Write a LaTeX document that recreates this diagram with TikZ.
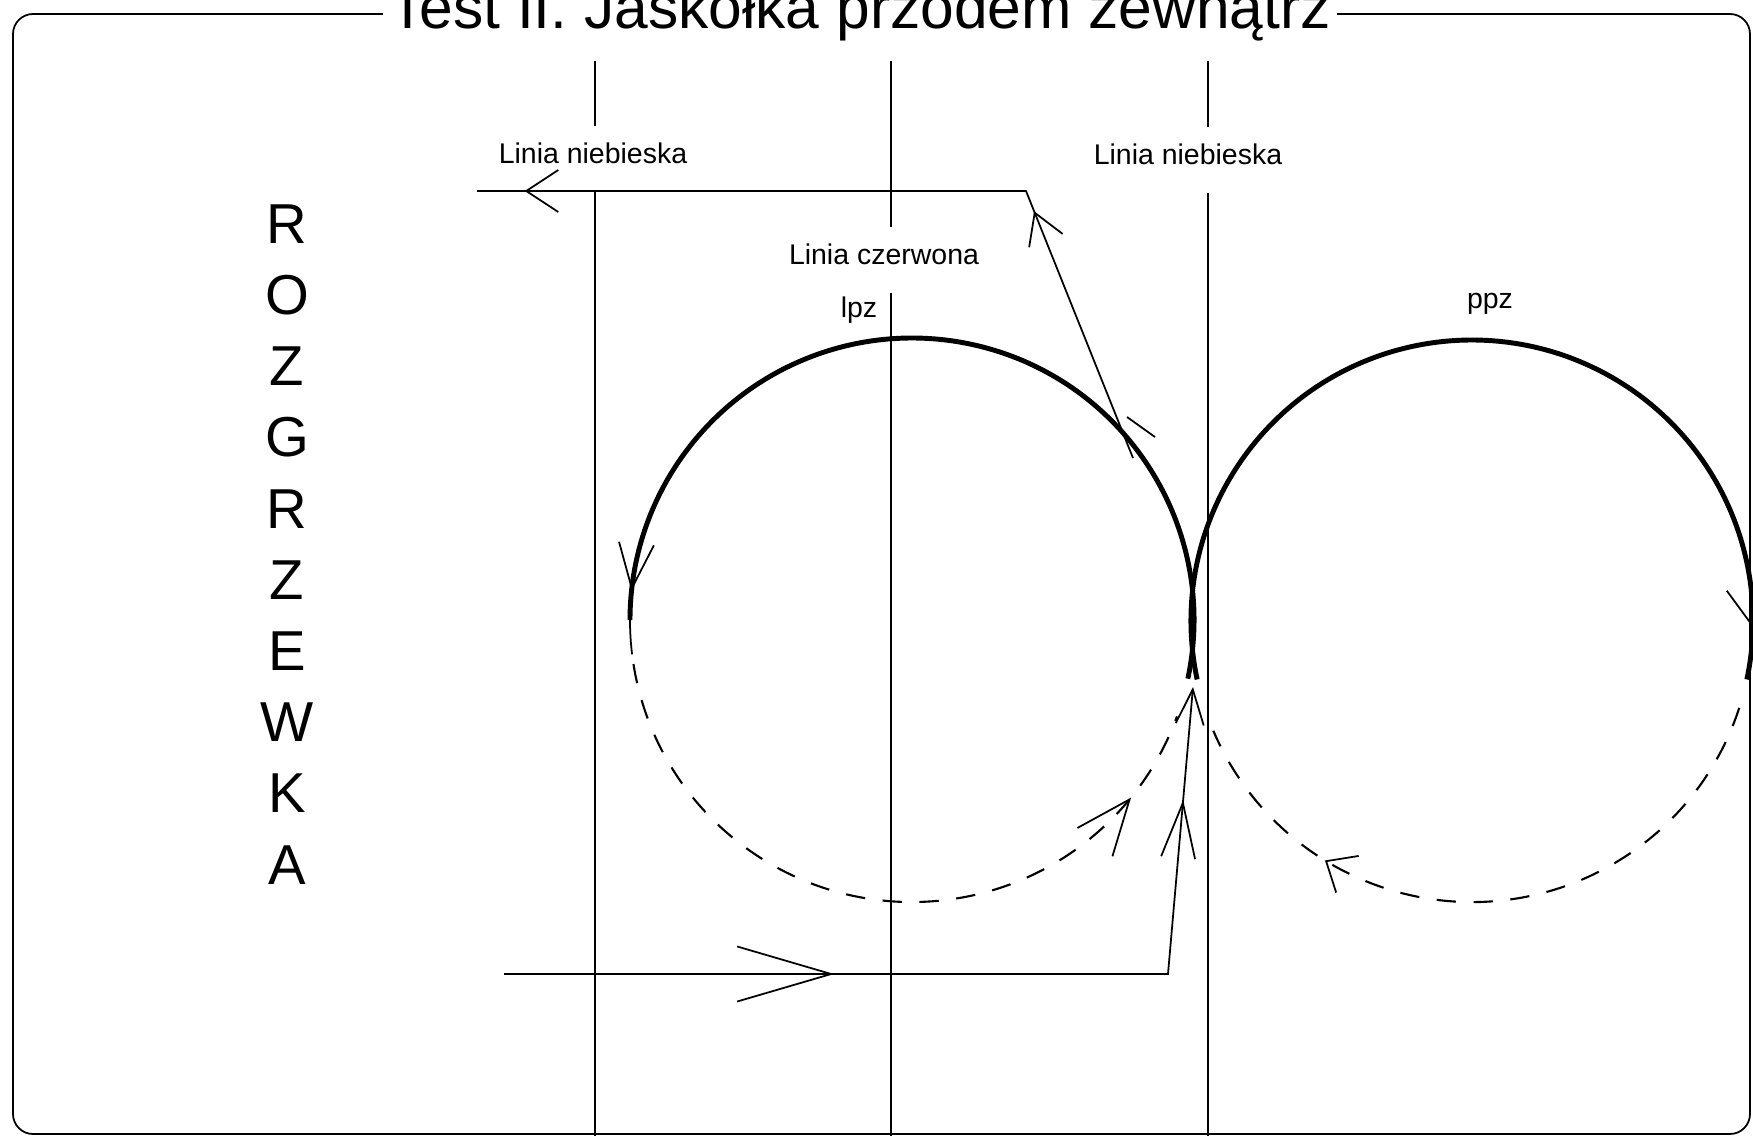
\documentclass[tikz,border=0pt]{standalone}
\usepackage{fontspec}
\setmainfont{Liberation Sans}
\usetikzlibrary{arrows.meta,decorations.markings}

\begin{document}
\begin{tikzpicture}[
  x=0.01cm, y=-0.01cm,
  thinline/.style={line width=0.5pt},
  arcline/.style={line width=1.4pt},
  arcdash/.style={line width=0.6pt, dash pattern=on 5.5pt off 5pt},
  title/.style={font=\fontsize{17.2}{20}\selectfont, fill=white, anchor=base,
                inner xsep=0.06cm, inner ysep=2pt},
  lbl/.style={font=\fontsize{8.1}{9}\selectfont, fill=white, inner xsep=1pt, inner ysep=0pt,
              text height=0.36cm, text depth=0.28cm},
  tag/.style={font=\fontsize{8.1}{9}\selectfont, inner sep=0pt},
  bigletter/.style={font=\fontsize{16}{18}\selectfont, inner sep=0pt},
  barb at/.style args={#1/#2/#3}{postaction={solid, decorate,
    decoration={markings, mark=at position #1 with
      {\arrow{Straight Barb[length=#2, width=#3, line width=0.5pt 0]}}}}}
]
\useasboundingbox (0,0) rectangle (1753,1136);

% frame and title
\draw[thinline, rounded corners=0.2cm] (13,14) rectangle (1750,1134);
\node[title] (title) at (860,28) {Test II. Jaskółka przodem zewnątrz};

% side word
\foreach \ch [count=\i from 0] in {R,O,Z,G,R,Z,E,W,K,A}
  \node[bigletter] (rz\i) at (287,{224+71.2*\i}) {\ch};

% the three lines
\coordinate (atop) at (595,61);  \coordinate (abot) at (595,1136);
\coordinate (btop) at (891,61);  \coordinate (bbot) at (891,1136);
\coordinate (ctop) at (1208,61); \coordinate (cbot) at (1208,1136);
\node[lbl] (nl) at (593,159) {Linia niebieska};
\node[lbl] (nr) at (1188,160) {Linia niebieska};
\node[lbl] (cz) at (884,260) {Linia czerwona};
\draw[thinline] (atop) -- (atop |- nl.north) (nl.south -| abot) -- (abot);
\draw[thinline] (btop) -- (btop |- cz.north) (cz.south -| bbot) -- (bbot);
\draw[thinline] (ctop) -- (ctop |- nr.north) (nr.south -| cbot) -- (cbot);

% circles
\coordinate (lc) at (912,620);
\coordinate (rc) at (1472,621);
\node[tag] (lpz) at (859,310) {lpz};
\node[tag] (ppz) at (1490,304) {ppz};
\draw[arcline, barb at={0.969/0.45cm/0.35cm}] (lc) ++(372:282) arc[start angle=372, end angle=180, radius=282];
\draw[thinline] (lc) ++(180:282) arc[start angle=180, end angle=173, radius=282];
\draw[arcdash, barb at={0.874/0.55cm/0.45cm}] (lc) ++(171:282) arc[start angle=171, end angle=20, radius=282];
\draw[arcline, barb at={0.948/0.35cm/0.54cm}] (rc) ++(168:281) arc[start angle=168, end angle=372, radius=281];
\draw[arcdash, barb at={0.745/0.25cm/0.43cm}] (rc) ++(18:281) arc[start angle=18, end angle=157, radius=281];

% way in
\coordinate (in0) at (504,974);
\coordinate (in1) at (1168,974);
\coordinate (in2) at (1193,687);
\draw[thinline, barb at={0.347/0.94cm/0.55cm}, barb at={0.881/0.55cm/0.34cm},
      -{Straight Barb[length=0.35cm, width=0.28cm]}] (in0) -- (in1) -- (in2);

% way out
\coordinate (out0) at (1133,458);
\coordinate (out1) at (1026,191);
\coordinate (out2) at (477,191);
\draw[thinline, barb at={0.318/0.3cm/0.36cm}, barb at={0.943/0.32cm/0.42cm}] (out0) -- (out1) -- (out2);
\draw[thinline] (1127,417) -- (1155,437);
\end{tikzpicture}
\end{document}
